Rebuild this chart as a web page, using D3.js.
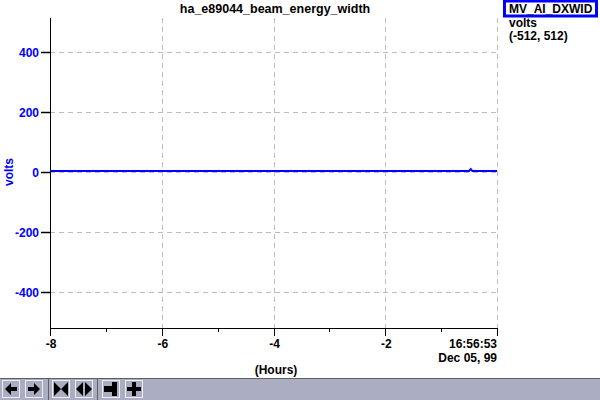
<!DOCTYPE html>
<html>
<head>
<meta charset="utf-8">
<script src="https://cdn.jsdelivr.net/npm/d3@7"></script>
<style>
  body { margin: 0; background: #fff; }
  svg { display: block; font-family: "Liberation Sans", Arial, sans-serif; font-weight: bold; font-size: 12px; }
</style>
</head>
<body>
<svg width="600" height="400"></svg>
<script>
const svg_ = d3.select('svg');

const W = 600;
const H = 400;

// data
const title = "ha_e89044_beam_energy_width";
const deviceName = "MV_AI_DXWID";
const units = "volts";
const rangeLabel = "(-512, 512)";
const hours = [-8, -6.5, -5, -3.5, -2, -1, -0.5, -0.47, -0.44, -0.41, 0];
const volts = [3, 3, 3, 3, 3, 3, 3, 10, 3, 3, 3];
const yTicks = [-400, -200, 0, 200, 400];
const xMajor = [-8, -6, -4, -2];
const xMinor = [-7, -5, -3, -1];
const stampTime = "16:56:53";
const stampDate = "Dec 05, 99";

const M = { TOP: 18, LEFT: 50, RIGHT: 497, BOTTOM: 326 };

const x = d3.scaleLinear().domain([-8, 0]).range([M.LEFT, M.RIGHT]);
const y = d3.scaleLinear().domain([-512, 512]).range([M.BOTTOM, M.TOP]);

// grid
const grid = svg_.append("g")
    .attr("stroke", "#bdbdbd")
    .attr("stroke-dasharray", "5,4")
    .attr("stroke-width", 1);

grid.selectAll("line.h")
    .data(yTicks)
    .join("line")
    .attr("x1", M.LEFT).attr("x2", M.RIGHT)
    .attr("y1", d => Math.round(y(d)) + 0.5)
    .attr("y2", d => Math.round(y(d)) + 0.5);

grid.selectAll("line.v")
    .data(xMajor.concat([0]))
    .join("line")
    .attr("class", "v")
    .attr("x1", d => Math.round(x(d)) + 0.5)
    .attr("x2", d => Math.round(x(d)) + 0.5)
    .attr("y1", M.TOP).attr("y2", 328);

// y axis
svg_.append("line")
    .attr("x1", M.LEFT + 0.5).attr("x2", M.LEFT + 0.5)
    .attr("y1", M.TOP).attr("y2", 328)
    .attr("stroke", "#000");

const yAx = svg_.append("g");
yAx.selectAll("line")
    .data(yTicks)
    .join("line")
    .attr("x1", 41).attr("x2", M.LEFT)
    .attr("y1", d => Math.round(y(d)) + 0.5)
    .attr("y2", d => Math.round(y(d)) + 0.5)
    .attr("stroke", "#000")
    .attr("stroke-width", 1.5);
yAx.selectAll("text")
    .data(yTicks)
    .join("text")
    .attr("x", 39)
    .attr("y", d => y(d) + 5)
    .attr("text-anchor", "end")
    .attr("fill", "#0000ff")
    .text(d => d < 0 ? "-" + Math.abs(d) : d);

svg_.append("text")
    .attr("transform", `translate(13,${y(0)}) rotate(-90)`)
    .attr("text-anchor", "middle")
    .attr("fill", "#0000ff")
    .text(units);

// x axis
svg_.append("line")
    .attr("x1", M.LEFT).attr("x2", M.RIGHT + 1)
    .attr("y1", 328.5).attr("y2", 328.5)
    .attr("stroke", "#000");

const xAx = svg_.append("g").attr("stroke", "#000");
xAx.selectAll("line.maj")
    .data(xMajor.concat([0]))
    .join("line")
    .attr("class", "maj")
    .attr("x1", d => Math.round(x(d)) + 0.5)
    .attr("x2", d => Math.round(x(d)) + 0.5)
    .attr("y1", 328).attr("y2", 336);
xAx.selectAll("line.min")
    .data(xMinor)
    .join("line")
    .attr("class", "min")
    .attr("x1", d => Math.round(x(d)) + 0.5)
    .attr("x2", d => Math.round(x(d)) + 0.5)
    .attr("y1", 328).attr("y2", 332);

svg_.append("g").selectAll("text")
    .data(xMajor)
    .join("text")
    .attr("x", d => x(d) + 1)
    .attr("y", 348)
    .attr("text-anchor", "middle")
    .text(d => d < 0 ? "-" + Math.abs(d) : d);

svg_.append("text")
    .attr("x", 497).attr("y", 348)
    .attr("text-anchor", "end")
    .text(stampTime);
svg_.append("text")
    .attr("x", 497).attr("y", 362)
    .attr("text-anchor", "end")
    .text(stampDate);
svg_.append("text")
    .attr("x", 276).attr("y", 374)
    .attr("text-anchor", "middle")
    .text("(Hours)");

// title
svg_.append("text")
    .attr("x", 275).attr("y", 13)
    .attr("text-anchor", "middle")
    .attr("font-size", "12.5px")
    .text(title);

// data line
const line = d3.line().x((d, i) => x(hours[i])).y(d => y(d));
svg_.append("path")
    .datum(volts)
    .attr("d", line)
    .attr("fill", "none")
    .attr("stroke", "#0000ff")
    .attr("stroke-width", 2);

// legend
svg_.append("rect")
    .attr("x", 504.5).attr("y", 1)
    .attr("width", 92).attr("height", 15)
    .attr("fill", "#fff")
    .attr("stroke", "#0000ff")
    .attr("stroke-width", 3);
svg_.append("text")
    .attr("x", 509).attr("y", 13)
    .text(deviceName);
svg_.append("text")
    .attr("x", 509).attr("y", 27)
    .text(units);
svg_.append("text")
    .attr("x", 509).attr("y", 40)
    .text(rangeLabel);

// toolbar
const tb = svg_.append("g");
tb.append("rect")
    .attr("x", 0).attr("y", 378)
    .attr("width", W).attr("height", 22)
    .attr("fill", "#abaec2");
tb.append("line")
    .attr("x1", 0).attr("x2", W)
    .attr("y1", 378.5).attr("y2", 378.5)
    .attr("stroke", "#606060");

const btnX = [2, 25, 52, 75, 102, 125];
const seps = [48, 97];
tb.selectAll("line.sep")
    .data(seps)
    .join("line")
    .attr("class", "sep")
    .attr("x1", d => d + 0.5).attr("x2", d => d + 0.5)
    .attr("y1", 379).attr("y2", 400)
    .attr("stroke", "#606060");
tb.selectAll("rect.btn")
    .data(btnX)
    .join("rect")
    .attr("class", "btn")
    .attr("x", d => d + 0.5).attr("y", 380.5)
    .attr("width", 17).attr("height", 17)
    .attr("fill", "#abaec2")
    .attr("stroke", "#eeeeee");

const icons = [
    "M3,9 L9,3 L9,7 L15,7 L15,11 L9,11 L9,15 Z",
    "M15,9 L9,3 L9,7 L3,7 L3,11 L9,11 L9,15 Z",
    "M2,2 L9,9 L2,16 Z M16,2 L9,9 L16,16 Z",
    "M8,2 L1,9 L8,16 Z M10,2 L17,9 L10,16 Z",
    "M2,6 L10,6 L10,2 L15,2 L15,16 L10,16 L10,12 L2,12 Z",
    "M7,2 L11,2 L11,7 L16,7 L16,11 L11,11 L11,16 L7,16 L7,11 L2,11 L2,7 L7,7 Z"
];
tb.selectAll("path")
    .data(icons)
    .join("path")
    .attr("transform", (d, i) => `translate(${btnX[i]},380)`)
    .attr("d", d => d)
    .attr("fill", "#000");
</script>
</body>
</html>
